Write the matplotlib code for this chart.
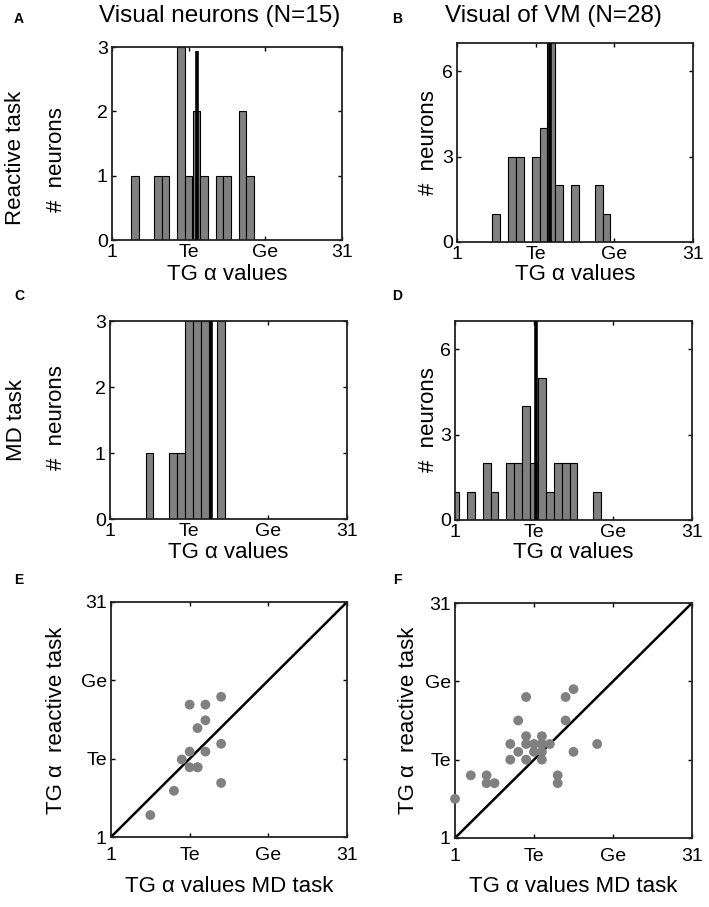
import matplotlib
matplotlib.use("Agg")
import matplotlib.pyplot as plt
import numpy as np

plt.rcParams['font.family'] = ['Liberation Sans', 'DejaVu Sans']

W, H = 709, 907

# ---- data ----
tick_vals = [1, 11, 21, 31]
tick_labels = ['1', 'Te', 'Ge', '31']

# A: Visual neurons, reactive task
a_bins = [4, 7, 8, 10, 11, 12, 13, 15, 16, 18, 19]
a_counts = [1, 1, 1, 3, 1, 2, 1, 1, 1, 2, 1]
a_mean = 12.1
a_mean_top = 2.94

# B: Visual of VM, reactive task
b_bins = [6, 8, 9, 11, 12, 13, 14, 16, 19, 20]
b_counts = [1, 3, 3, 3, 4, 7, 2, 2, 2, 1]
b_mean = 12.85

# C: Visual neurons, MD task
c_bins = [6, 9, 10, 11, 12, 13, 15]
c_counts = [1, 1, 1, 3, 3, 3, 3]
c_mean = 13.8

# D: Visual of VM, MD task
d_bins = [1, 3, 5, 6, 8, 9, 10, 11, 12, 13, 14, 15, 16, 19]
d_counts = [1, 1, 2, 1, 2, 2, 4, 2, 5, 1, 2, 2, 2, 1]
d_mean = 11.2

# E: scatter, visual neurons (x = MD task, y = reactive task)
e_md = [6, 9, 10, 11, 11, 12, 12, 11, 13, 12, 13, 13, 15, 15, 15]
e_react = [3.8, 6.9, 10.9, 11.9, 9.9, 9.9, 9.9, 17.9, 17.9, 14.9, 15.9, 11.9, 18.9, 12.9, 7.9]

# F: scatter, visual of VM (x = MD task, y = reactive task)
f_md = [1, 3, 5, 5, 6, 8, 8, 9, 9, 10, 10, 10, 11, 11, 12, 12, 12, 13,
        14, 14, 15, 15, 16, 16, 19, 10, 12, 12]
f_react = [6, 9, 9, 8, 8, 11, 13, 12, 16, 19, 14, 11, 13, 12, 14, 12, 13, 13,
           9, 8, 19, 16, 20, 12, 13, 13, 13, 11]

GRAY = '#808080'
TICK_FS = 14
LABEL_FS = 16

fig = plt.figure(figsize=(W / 100, H / 100), dpi=100)


def add_ax(l, r, t, b):
    return fig.add_axes([l / W, 1 - b / H, (r - l) / W, (b - t) / H])


def style(ax, yticks, ylabels, xpad=3):
    ax.set_xlim(1, 31)
    ax.set_xticks(tick_vals)
    ax.set_xticklabels(tick_labels)
    ax.set_yticks(yticks)
    ax.set_yticklabels(ylabels)
    ax.tick_params(direction='in', length=3, width=1, top=True, right=True,
                   labelsize=TICK_FS, pad=3, colors='black')
    ax.tick_params(axis='x', pad=xpad)
    for s in ax.spines.values():
        s.set_linewidth(1.3)
        s.set_color('#222222')


def hist_panel(ax, bins, counts, ymax, yticks, mean, mean_top=None):
    ax.bar(bins, counts, width=1.0, color=GRAY, edgecolor='black',
           linewidth=0.8, zorder=2)
    top = ymax if mean_top is None else mean_top
    ax.plot([mean, mean], [0, top], color='black', lw=2.6, zorder=3,
            solid_capstyle='butt')
    ax.set_ylim(0, ymax)
    style(ax, yticks, [str(v) for v in yticks])
    ax.set_xlabel('TG α values', fontsize=LABEL_FS)


def scatter_panel(ax, xs, ys):
    ax.plot([1, 31], [1, 31], color='black', lw=1.8, zorder=2)
    ax.scatter(xs, ys, s=50, color=GRAY, edgecolors='none', zorder=3,
               clip_on=False)
    ax.set_ylim(1, 31)
    style(ax, tick_vals, tick_labels, xpad=7)
    ax.set_xlabel('TG α values MD task', fontsize=LABEL_FS)


axA = add_ax(112, 342, 47, 240)
hist_panel(axA, a_bins, a_counts, 3, [0, 1, 2, 3], a_mean, a_mean_top)
axB = add_ax(457, 693, 43, 242)
hist_panel(axB, b_bins, b_counts, 7, [0, 3, 6], b_mean)
axC = add_ax(110, 347, 321, 519)
hist_panel(axC, c_bins, c_counts, 3, [0, 1, 2, 3], c_mean)
axD = add_ax(455, 692, 321, 520)
hist_panel(axD, d_bins, d_counts, 7, [0, 3, 6], d_mean)
axE = add_ax(111, 347, 602, 837)
scatter_panel(axE, e_md, e_react)
axF = add_ax(455, 692, 603, 838)
scatter_panel(axF, f_md, f_react)


def place_labels(ax, ytext, yx, ycenter, xy):
    """Place y label centre at pixel x=yx, y=ycenter; x label centre at pixel y=xy."""
    pos = ax.get_position()
    l, w = pos.x0 * W, pos.width * W
    t = (1 - pos.y1) * H
    h = pos.height * H
    ax.set_ylabel(ytext, fontsize=LABEL_FS, va='center')
    ax.yaxis.set_label_coords((yx - l) / w, 1 - (ycenter - t) / h)
    ax.xaxis.label.set_va('center')
    ax.xaxis.set_label_coords(0.5, 1 - (xy - t) / h)


place_labels(axA, '#  neurons', 56, 160, 274)
place_labels(axB, '#  neurons', 428, 143, 274)
place_labels(axC, '#  neurons', 56, 418, 553)
place_labels(axD, '#  neurons', 428, 420, 553)
place_labels(axE, 'TG α  reactive task', 56, 720, 887)
place_labels(axF, 'TG α  reactive task', 408, 720, 887)

# row labels
fig.text(16 / W, 1 - 158 / H, 'Reactive task', rotation=90, fontsize=LABEL_FS,
         ha='center', va='center')
fig.text(16 / W, 1 - 420 / H, 'MD task', rotation=90, fontsize=LABEL_FS,
         ha='center', va='center')

# column titles
fig.text(220 / W, 1 - 16 / H, 'Visual neurons (N=15)', fontsize=17.5,
         ha='center', va='center')
fig.text(553 / W, 1 - 16 / H, 'Visual of VM (N=28)', fontsize=17.5,
         ha='center', va='center')

# panel letters
for letter, x, y in [('A', 19, 19), ('B', 397, 19), ('C', 19, 296),
                     ('D', 397, 296), ('E', 19, 580), ('F', 397, 580)]:
    fig.text(x / W, 1 - y / H, letter, fontsize=10, fontweight='bold',
             ha='center', va='center')

fig.savefig('out.png', dpi=100)
